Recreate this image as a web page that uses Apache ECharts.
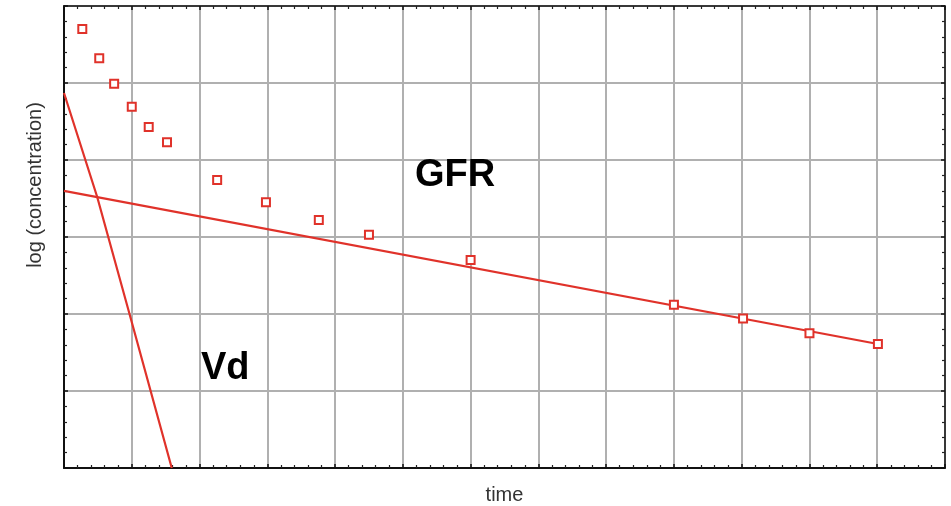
<!DOCTYPE html>
<html>
<head>
<meta charset="utf-8">
<script src="https://cdn.jsdelivr.net/npm/echarts@6/dist/echarts.min.js"></script>
<style>
  html, body { margin: 0; padding: 0; background: #fff; }
  #chart { width: 951px; height: 506px; }
</style>
</head>
<body>
<div id="chart"></div>
<script>
// measured samples, log(concentration) against time (axis units)
var sampleTime = [0.27, 0.52, 0.74, 1.00, 1.25, 1.52, 2.26, 2.98, 3.76, 4.50, 6.00, 9.00, 10.02, 11.00, 12.01]
var sampleLogC = [5.70, 5.32, 4.99, 4.69, 4.43, 4.23, 3.74, 3.45, 3.22, 3.03, 2.70, 2.12, 1.94, 1.75, 1.61]

// fitted lines
var gfrTime = [0, 12.01]
var gfrLogC = [3.60, 1.61]
var vdTime = [0, 0.49, 0.97, 1.59]
var vdLogC = [4.87, 3.52, 1.99, 0]

// annotation anchors
var labelNames = ['GFR', 'Vd']
var labelTime = [5.77, 2.38]
var labelLogC = [3.80, 1.29]

var RED = '#e0322a'

function pairs(xs, ys) {
  return xs.map(function (x, i) { return [x, ys[i]] })
}

var chart = echarts.init(document.getElementById('chart'))

function frameAxis(pos, max, isMain, splits) {
  return {
    type: 'value',
    position: pos,
    min: 0,
    max: max,
    interval: 1,
    axisLine: { show: true, onZero: false, lineStyle: { color: '#111', width: isMain ? 2 : 1.5 } },
    axisTick: { show: true, inside: true, length: 4, lineStyle: { color: '#111', width: 1.5 } },
    minorTick: { show: true, splitNumber: splits, length: 3, lineStyle: { color: '#222', width: 1.2 } },
    axisLabel: { show: false },
    splitLine: { show: isMain, lineStyle: { color: '#b0b0b0', width: 2 } }
  }
}

var xMain = frameAxis('bottom', 13, true, 5)
xMain.name = 'time'
xMain.nameLocation = 'middle'
xMain.nameGap = 17
xMain.nameTextStyle = { fontFamily: 'Liberation Sans', fontSize: 20, color: '#333' }

var option = {
  backgroundColor: '#fff',
  animation: false,
  grid: { left: 64, right: 6, top: 6, bottom: 38, outerBoundsMode: 'none', containLabel: false },
  xAxis: [xMain, frameAxis('top', 13, false, 5)],
  yAxis: [frameAxis('left', 6, true, 5), frameAxis('right', 6, false, 5)],
  graphic: [{
    type: 'text',
    x: 35,
    y: 185,
    rotation: Math.PI / 2,
    style: {
      text: 'log (concentration)',
      font: '20px "Liberation Sans"',
      fill: '#333',
      textAlign: 'center',
      textVerticalAlign: 'middle'
    }
  }],
  series: [
    {
      name: 'GFR',
      type: 'line',
      data: pairs(gfrTime, gfrLogC),
      showSymbol: false,
      lineStyle: { color: RED, width: 2.2 },
      z: 2
    },
    {
      name: 'Vd',
      type: 'line',
      data: pairs(vdTime, vdLogC),
      showSymbol: false,
      lineStyle: { color: RED, width: 2.2 },
      z: 2
    },
    {
      name: 'samples',
      type: 'scatter',
      data: pairs(sampleTime, sampleLogC),
      symbol: 'rect',
      symbolSize: 8,
      itemStyle: { color: '#fff', borderColor: RED, borderWidth: 2, opacity: 1 },
      z: 3
    },
    {
      name: 'labels',
      type: 'scatter',
      data: labelNames.map(function (n, i) { return { name: n, value: [labelTime[i], labelLogC[i]] } }),
      symbolSize: 0,
      itemStyle: { opacity: 1 },
      label: {
        show: true,
        position: 'inside',
        formatter: '{b}',
        fontFamily: 'Liberation Sans',
        fontWeight: 'bold',
        fontSize: 38,
        color: '#000',
        opacity: 1
      },
      z: 4
    }
  ]
}

chart.setOption(option)
</script>
</body>
</html>
